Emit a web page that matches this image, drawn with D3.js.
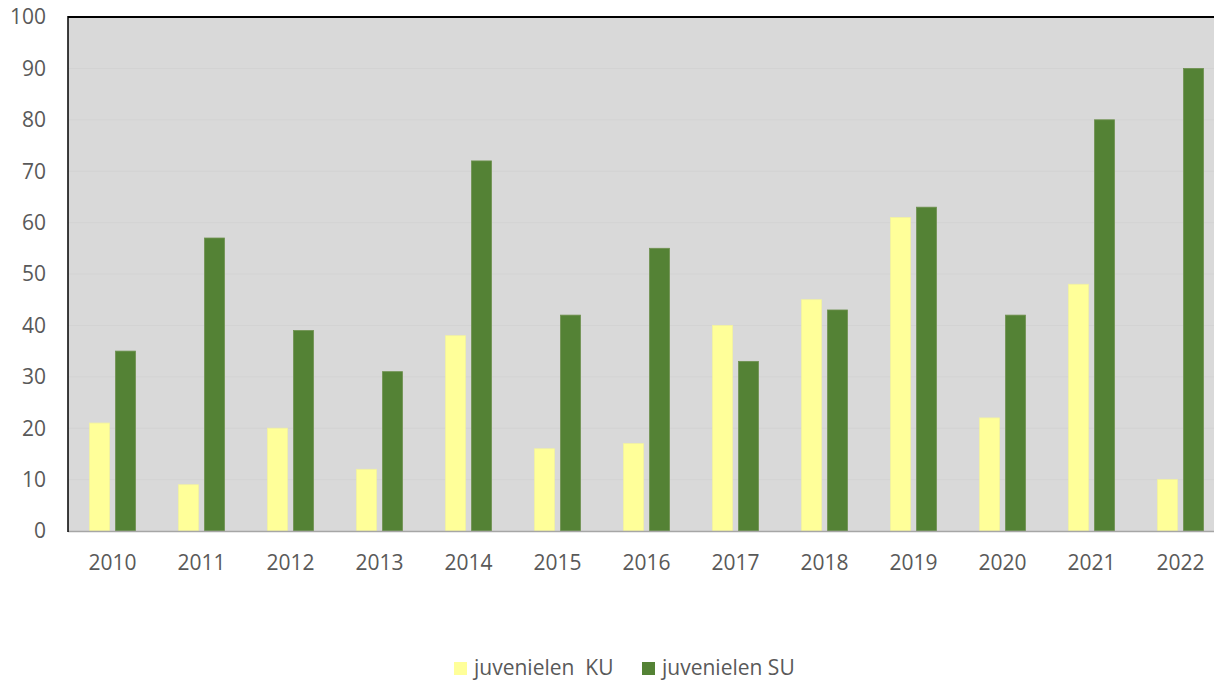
<!DOCTYPE html>
<html>
<head>
<meta charset="utf-8">
<script src="https://cdn.jsdelivr.net/npm/d3@7"></script>
<style>
  body { margin: 0; background: #fff; }
  text { font-family: "Open Sans", "Liberation Sans", sans-serif; fill: #595959; }
</style>
</head>
<body>
<script>
const years = ['2010','2011','2012','2013','2014','2015','2016','2017','2018','2019','2020','2021','2022'];
const seriesNames = ['juvenielen  KU', 'juvenielen SU'];
const ku = [21, 9, 20, 12, 38, 16, 17, 40, 45, 61, 22, 48, 10];
const su = [35, 57, 39, 31, 72, 42, 55, 33, 43, 63, 42, 80, 90];
const yTicks = [0, 10, 20, 30, 40, 50, 60, 70, 80, 90, 100];
const colors = ['#ffff99', '#548235'];

const w = 1214, h = 680;
const plotLeft = 68, plotTop = 17, plotBottom = 531;
const bandW = 89;

const svg = d3.select('body').append('svg')
  .attr('width', w).attr('height', h);

const x = d3.scaleBand()
  .domain(years)
  .range([plotLeft, plotLeft + bandW * years.length])
  .paddingInner(0).paddingOuter(0);

const y = d3.scaleLinear().domain([0, 100]).range([plotBottom, plotTop]);

// plot background
svg.append('rect')
  .attr('x', plotLeft).attr('y', plotTop)
  .attr('width', w - plotLeft).attr('height', plotBottom - plotTop)
  .attr('fill', '#d9d9d9');

// gridlines
svg.append('g').selectAll('line')
  .data(yTicks.filter(d => d > 0 && d < 100))
  .enter().append('line')
  .attr('x1', plotLeft).attr('x2', w)
  .attr('y1', d => y(d)).attr('y2', d => y(d))
  .attr('stroke', '#d3d3d3').attr('stroke-width', 1);

// bars
const barW = 20, gap = 6;
const groups = [ku, su];
groups.forEach((vals, s) => {
  svg.append('g').selectAll('rect')
    .data(vals)
    .enter().append('rect')
    .attr('x', (d, i) => x(years[i]) + bandW / 2 - barW - gap / 2 + s * (barW + gap))
    .attr('y', d => y(d))
    .attr('width', barW)
    .attr('height', d => y(0) - y(d))
    .attr('fill', colors[s])
    .attr('stroke', s === 0 ? '#f2f2a0' : '#6f9150')
    .attr('stroke-width', 0.8);
});

// axis lines
svg.append('line')
  .attr('x1', plotLeft).attr('x2', w).attr('y1', plotBottom + 0.5).attr('y2', plotBottom + 0.5)
  .attr('stroke', '#a6a6a6').attr('stroke-width', 1.5);
svg.append('line')
  .attr('x1', plotLeft).attr('x2', w).attr('y1', plotTop).attr('y2', plotTop)
  .attr('stroke', '#000').attr('stroke-width', 2);
svg.append('line')
  .attr('x1', plotLeft).attr('x2', plotLeft).attr('y1', plotTop - 1).attr('y2', plotBottom + 1)
  .attr('stroke', '#000').attr('stroke-width', 1.5);

// y tick labels
svg.append('g').selectAll('text')
  .data(yTicks)
  .enter().append('text')
  .attr('x', 46)
  .attr('y', d => y(d))
  .attr('dy', '0.35em')
  .attr('text-anchor', 'end')
  .style('font-size', '21px')
  .text(d => d);

// x tick labels
svg.append('g').selectAll('text')
  .data(years)
  .enter().append('text')
  .attr('x', d => x(d) + bandW / 2)
  .attr('y', 570)
  .attr('text-anchor', 'middle')
  .style('font-size', '21px')
  .text(d => d);

// legend
const legendItems = [
  { name: seriesNames[0], color: colors[0], x: 454 },
  { name: seriesNames[1], color: colors[1], x: 642 }
];
const lg = svg.append('g').selectAll('g')
  .data(legendItems)
  .enter().append('g')
  .attr('transform', d => `translate(${d.x},0)`);
lg.append('rect')
  .attr('x', 0).attr('y', 662).attr('width', 13).attr('height', 13)
  .attr('fill', d => d.color);
lg.append('text')
  .attr('x', 20).attr('y', 675)
  .style('font-size', '21px')
  .style('white-space', 'pre')
  .text(d => d.name);
</script>
</body>
</html>
